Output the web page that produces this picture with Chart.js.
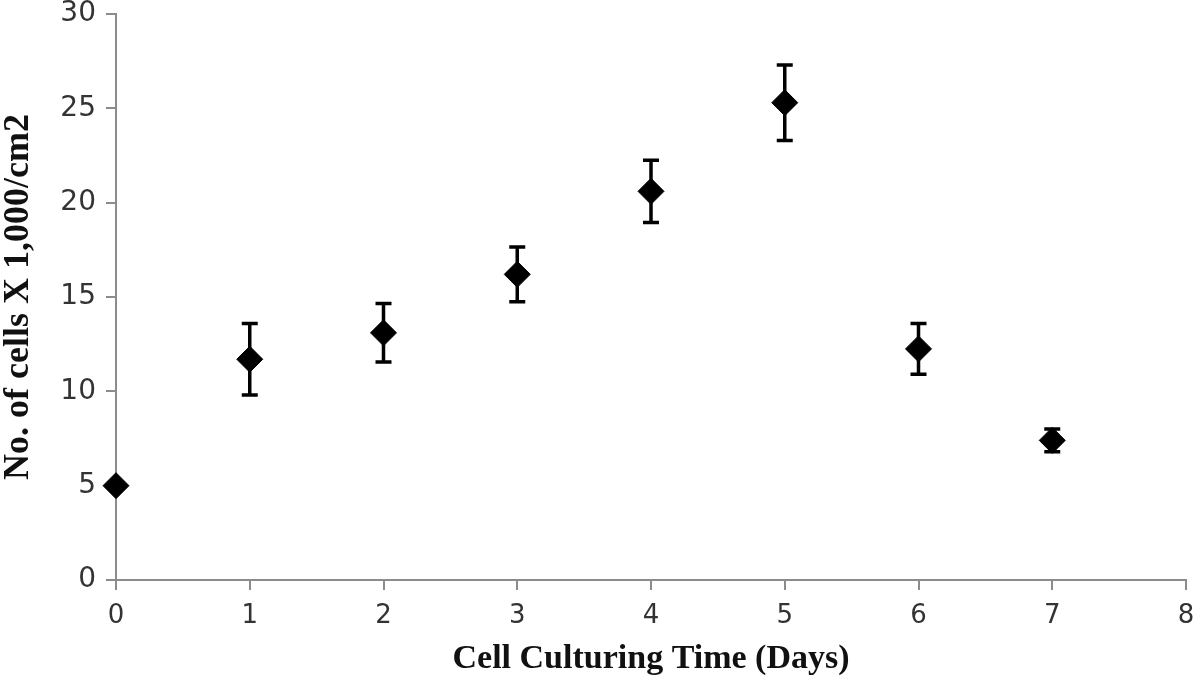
<!DOCTYPE html>
<html lang="en">
<head>
    <meta charset="UTF-8">
    <title>Cell Culturing Time</title>
    <style>
        body {
    margin: 0;
    background: #ffffff;
}

.chart-container {
    position: relative;
    width: 1200px;
    height: 677px;
}
    </style>
    <script src="https://cdn.jsdelivr.net/npm/chart.js"></script>
</head>
<body>
    <div class="chart-container">
        <canvas id="cellChart"></canvas>
    </div>

    <script>
        // data
        const days = [0, 1, 2, 3, 4, 5, 6, 7];
        const cells = [5.0, 11.7, 13.1, 16.2, 20.6, 25.3, 12.25, 7.4];
        const errors = [0, 1.9, 1.55, 1.45, 1.65, 2.0, 1.35, 0.6];
        const xTicks = [0, 1, 2, 3, 4, 5, 6, 7, 8];
        const yTicks = [0, 5, 10, 15, 20, 25, 30];

        // error bars drawn through the scales
        const errorBars = {
            id: 'errorBars',
            afterDatasetsDraw(chart) {
                const ctx = chart.ctx;
                const xs = chart.scales.x, ys = chart.scales.y;
                ctx.save();
                ctx.strokeStyle = '#000';
                ctx.lineWidth = 3.5;
                days.forEach((d, i) => {
                    if (!errors[i]) return;
                    const px = xs.getPixelForValue(d);
                    const top = ys.getPixelForValue(cells[i] + errors[i]);
                    const bot = ys.getPixelForValue(cells[i] - errors[i]);
                    ctx.beginPath();
                    ctx.moveTo(px, top);
                    ctx.lineTo(px, bot);
                    ctx.moveTo(px - 8, top);
                    ctx.lineTo(px + 8, top);
                    ctx.moveTo(px - 8, bot);
                    ctx.lineTo(px + 8, bot);
                    ctx.stroke();
                });
                ctx.restore();
            }
        };

        const ctxCell = document.getElementById('cellChart').getContext('2d');
        const cellChart = new Chart(ctxCell, {
            type: 'scatter',
            data: {
                datasets: [{
                    data: days.map((d, i) => ({ x: d, y: cells[i] })),
                    pointStyle: 'rectRot',
                    pointRadius: 13,
                    backgroundColor: '#000',
                    borderColor: '#000',
                    borderWidth: 1,
                    clip: false
                }]
            },
            options: {
                responsive: true,
                maintainAspectRatio: false,
                animation: false,
                layout: { padding: 0 },
                plugins: {
                    legend: { display: false },
                    tooltip: { enabled: false }
                },
                scales: {
                    x: {
                        type: 'linear',
                        min: 0,
                        max: 8,
                        afterBuildTicks: s => { s.ticks = xTicks.map(v => ({ value: v })); },
                        afterFit: s => { s.height = 97; s.paddingRight = 14; },
                        grid: { display: true, drawOnChartArea: false, tickLength: 10, color: '#8c8c8c', lineWidth: 2 },
                        border: { color: '#8c8c8c', width: 2 },
                        ticks: { color: '#333', font: { family: 'DejaVu Sans', size: 26 }, padding: 11 },
                        title: {
                            display: true,
                            text: 'Cell Culturing Time (Days)',
                            color: '#111',
                            font: { family: 'Liberation Serif', size: 34, weight: 'bold' },
                            padding: { top: 0, bottom: -3 }
                        }
                    },
                    y: {
                        min: 0,
                        max: 30,
                        afterBuildTicks: s => { s.ticks = yTicks.map(v => ({ value: v })); },
                        afterFit: s => { s.width = 116; s.paddingTop = 12; },
                        grid: { display: true, drawOnChartArea: false, tickLength: 10, color: '#8c8c8c', lineWidth: 2 },
                        border: { color: '#8c8c8c', width: 2 },
                        ticks: { color: '#333', font: { family: 'DejaVu Sans', size: 28 }, padding: 10 },
                        title: {
                            display: true,
                            text: 'No. of cells X 1,000/cm2',
                            color: '#111',
                            font: { family: 'Liberation Serif', size: 36, weight: 'bold' },
                            padding: { top: -3, bottom: 0 }
                        }
                    }
                }
            },
            plugins: [errorBars]
        });
    </script>
</body>
</html>
